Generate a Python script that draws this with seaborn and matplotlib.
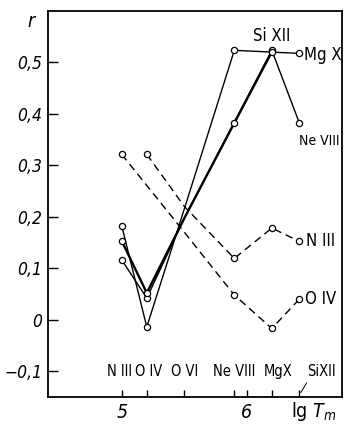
import numpy as np
import pandas as pd
import matplotlib
matplotlib.use("Agg")
import matplotlib.pyplot as plt
import seaborn as sns

# Ion positions on the lg T_m axis and their labels
ions = ["N III", "O IV", "O VI", "Ne VIII", "Mg X", "Si XII"]
lg_t = [5.0, 5.2, 5.5, 5.9, 6.2, 6.42]
ion_tick_labels = ["N III", "O IV", "O VI", "Ne VIII", "MgX", "SiXII"]

# Correlation coefficient r of each reference line with the other ions
r_mg10 = [0.182, -0.014, 0.215, 0.523, np.nan, 0.517]
r_ne8 = [0.116, 0.042, 0.197, np.nan, 0.523, 0.382]
r_si12 = [0.153, 0.052, 0.197, 0.382, 0.520, np.nan]
r_n3 = [np.nan, 0.321, 0.220, 0.119, 0.178, 0.152]
r_o4 = [0.321, np.nan, 0.170, 0.048, -0.017, 0.040]

series = {"Mg X": r_mg10, "Ne VIII": r_ne8, "Si XII": r_si12,
          "N III": r_n3, "O IV": r_o4}
styles = {"Mg X": ("-", 1.0), "Ne VIII": ("-", 1.0), "Si XII": ("-", 1.7),
          "N III": ((0, (5.5, 3.5)), 1.0), "O IV": ((0, (5.5, 3.5)), 1.0)}

rows = []
for name, vals in series.items():
    for ion, x, v in zip(ions, lg_t, vals):
        if not np.isnan(v):
            rows.append({"line": name, "ion": ion, "lgT": x, "r": v})
df = pd.DataFrame(rows)

sns.set_theme(style="white")
plt.rcParams["font.family"] = ["DejaVu Sans"]
plt.rcParams["font.stretch"] = "condensed"
plt.rcParams["mathtext.fontset"] = "dejavusans"
for key in ("text.color", "xtick.color", "ytick.color", "axes.labelcolor"):
    plt.rcParams[key] = "black"

fig = plt.figure(figsize=(3.44, 4.29), dpi=100)
ax = fig.add_axes([0.1395, 0.0746, 0.9945 - 0.1395, 0.974 - 0.0746])

for name in series:
    ls, lw = styles[name]
    sns.lineplot(data=df[df["line"] == name], x="lgT", y="r", ax=ax,
                 color="black", lw=lw, linestyle=ls, estimator=None,
                 sort=True, legend=False)

# open circles at every measured point except the O VI crossing
pts = df[df["ion"] != "O VI"]
sns.scatterplot(data=pts, x="lgT", y="r", ax=ax, marker="o", s=20,
                facecolor="white", edgecolor="black", linewidth=0.9,
                zorder=5, legend=False)

ax.set_xlim(4.41, 6.762)
ax.set_ylim(-0.150, 0.599)

yt = [-0.1, 0, 0.1, 0.2, 0.3, 0.4, 0.5]
ax.set_yticks(yt)
ax.set_yticklabels(["\u22120,1", "0", "0,1", "0,2", "0,3", "0,4", "0,5"],
                   fontsize=12.5, fontstyle="italic")
xt = [5.0, 5.2, 5.5, 5.9, 6.0, 6.2, 6.42]
ax.set_xticks(xt)
ax.set_xticklabels(["5", "", "", "", "6", "", ""], fontsize=14,
                   fontstyle="italic")
ax.tick_params(axis="y", direction="in", length=7, width=1.0, pad=4,
               left=True)
ax.tick_params(axis="x", direction="in", length=5, width=1.0, pad=4,
               bottom=True)
ax.set_xlabel("")
ax.set_ylabel("")
for s in ax.spines.values():
    s.set_color("black")
    s.set_linewidth(1.3)

# ion names above the bottom axis
label_shift = {"N III": -2, "O IV": 2, "MgX": 6, "SiXII": 22}
for x, lab in zip(lg_t, ion_tick_labels):
    ax.annotate(lab, xy=(x, -0.1), xytext=(label_shift.get(lab, 0), 0),
                textcoords="offset pixels", ha="center", va="center",
                fontsize=10.5)
ax.annotate("", xy=(6.42, -0.146), xytext=(6.49, -0.118),
            arrowprops=dict(arrowstyle="-", lw=0.7, color="black"))

# line names at the right
ax.annotate("Si XII", xy=(6.2, 0.520), xytext=(0, 16),
            textcoords="offset pixels", ha="center", va="center",
            fontsize=12)
ax.annotate("Mg X", xy=(6.42, 0.517), xytext=(5, -2),
            textcoords="offset pixels", ha="left", va="center", fontsize=12)
ax.annotate("Ne VIII", xy=(6.42, 0.382), xytext=(0, -18),
            textcoords="offset pixels", ha="left", va="center", fontsize=10)
ax.annotate("N III", xy=(6.42, 0.152), xytext=(7, 0),
            textcoords="offset pixels", ha="left", va="center", fontsize=12)
ax.annotate("O IV", xy=(6.42, 0.040), xytext=(6, 0),
            textcoords="offset pixels", ha="left", va="center", fontsize=12)

fig.text(0.09, 0.949, "r", fontsize=14, fontstyle="italic",
         ha="center", va="center")
fig.text(0.913, 0.040, r"lg $T_m$", fontsize=14, ha="center", va="center")

fig.savefig("out.png", dpi=100)
